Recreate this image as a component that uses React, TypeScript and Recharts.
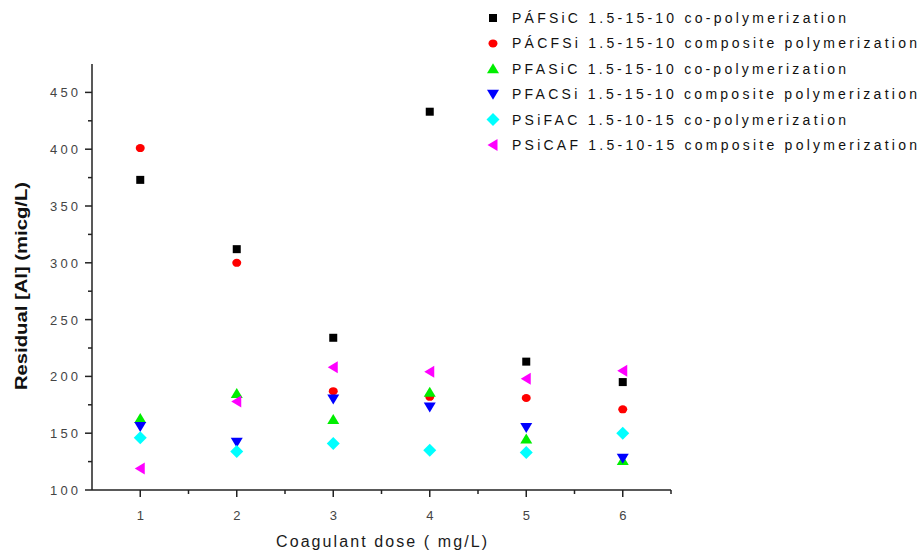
import { ScatterChart, Scatter, XAxis, YAxis, Legend, Label } from 'recharts';

document.body.style.margin = '0';

// coagulant dose (mg/L)
const doses = [1, 2, 3, 4, 5, 6];

// residual Al (micg/L) per coagulant
const pafsicCo = [373, 312, 234, 433, 213, 195];
const pacfsiComp = [401, 300, 187, 182, 181, 171];
const pfasicCo = [163, 185, 162, 186, 145, 126];
const pfacsiComp = [156, 142, 180, 173, 155, 128];
const psifacCo = [146, 134, 141, 135, 133, 150];
const psicafComp = [119, 178, 208, 204, 198, 205];

const xTicks = [1, 1.5, 2, 2.5, 3, 3.5, 4, 4.5, 5, 5.5, 6, 6.5];
const yTicks = [100, 125, 150, 175, 200, 225, 250, 275, 300, 325, 350, 375, 400, 425, 450];
const yLabels = [100, 150, 200, 250, 300, 350, 400, 450];

type MarkerKind = 'square' | 'circle' | 'up' | 'down' | 'diamond' | 'left';

const seriesList: { name: string; values: number[]; color: string; kind: MarkerKind; textW: number }[] = [
  { name: 'PÁFSiC 1.5-15-10 co-polymerization', values: pafsicCo, color: '#000000', kind: 'square', textW: 334 },
  { name: 'PÁCFSi 1.5-15-10 composite polymerization', values: pacfsiComp, color: '#ff0000', kind: 'circle', textW: 405 },
  { name: 'PFASiC 1.5-15-10 co-polymerization', values: pfasicCo, color: '#00ee00', kind: 'up', textW: 334 },
  { name: 'PFACSi 1.5-15-10 composite polymerization', values: pfacsiComp, color: '#0000ff', kind: 'down', textW: 405 },
  { name: 'PSiFAC 1.5-10-15 co-polymerization', values: psifacCo, color: '#00ffff', kind: 'diamond', textW: 334 },
  { name: 'PSiCAF 1.5-10-15 composite polymerization', values: psicafComp, color: '#ff00ff', kind: 'left', textW: 405 },
];

const AXIS = '#222';
const FONT = '"Liberation Sans", Arial, sans-serif';

function marker(kind: MarkerKind, cx: number, cy: number, color: string) {
  switch (kind) {
    case 'square':
      return <rect x={cx - 4} y={cy - 4} width={8} height={8} fill={color} />;
    case 'circle':
      return <ellipse cx={cx} cy={cy} rx={4.5} ry={4} fill={color} />;
    case 'up':
      return <polygon points={`${cx},${cy - 5.5} ${cx + 6},${cy + 4.5} ${cx - 6},${cy + 4.5}`} fill={color} />;
    case 'down':
      return <polygon points={`${cx},${cy + 5.5} ${cx + 6},${cy - 4.5} ${cx - 6},${cy - 4.5}`} fill={color} />;
    case 'diamond':
      return <polygon points={`${cx},${cy - 6.5} ${cx + 6.5},${cy} ${cx},${cy + 6.5} ${cx - 6.5},${cy}`} fill={color} />;
    case 'left':
      return <polygon points={`${cx - 5.5},${cy} ${cx + 4.5},${cy - 6} ${cx + 4.5},${cy + 6}`} fill={color} />;
  }
}

const XTick = (props: any) => {
  const { x, y, payload } = props;
  const major = Number.isInteger(payload.value);
  return (
    <g>
      <line x1={x} x2={x} y1={y} y2={y + (major ? 7 : 4)} stroke={AXIS} strokeWidth={1.5} />
      {major && (
        <text x={x} y={y + 30} textAnchor="middle" fontSize={13} fill="#444" fontFamily={FONT}>
          {payload.value}
        </text>
      )}
    </g>
  );
};

const YTick = (props: any) => {
  const { x, y, payload } = props;
  const major = yLabels.includes(payload.value);
  return (
    <g>
      <line x1={x} x2={x - (major ? 7 : 4)} y1={y} y2={y} stroke={AXIS} strokeWidth={1.5} />
      {major && (
        <text x={x - 14} y={y + 5} textAnchor="end" fontSize={13} fill="#444" fontFamily={FONT} textLength={28} lengthAdjust="spacing">
          {payload.value}
        </text>
      )}
    </g>
  );
};

const LegendBox = () => (
  <svg width={442} height={160}>
    {seriesList.map((s, i) => {
      const cy = 18 + i * 25.4;
      return (
        <g key={s.name}>
          {marker(s.kind, 13, cy, s.color)}
          <text x={32} y={cy + 5} fontSize={14} fill="#111" fontFamily={FONT} textLength={s.textW} lengthAdjust="spacing">
            {s.name}
          </text>
        </g>
      );
    })}
  </svg>
);

export default function App() {
  return (
    <div style={{ width: 922, height: 555, background: '#fff', position: 'relative' }}>
      <ScatterChart width={922} height={555} margin={{ top: 64, right: 251, bottom: 0, left: 0 }}>
        <XAxis
          type="number"
          dataKey="x"
          domain={[0.5, 6.5]}
          ticks={xTicks}
          interval={0}
          tickSize={0}
          tickMargin={0}
          tickLine={false}
          tick={<XTick />}
          height={65}
          axisLine={{ stroke: AXIS, strokeWidth: 1.5 }}
        >
          <Label
            content={(p: any) => {
              const vb = p.viewBox;
              return (
                <text x={vb.x + vb.width / 2} y={vb.y + 57} textAnchor="middle" fontSize={16} fill="#1a1a1a" fontFamily={FONT} textLength={211} lengthAdjust="spacing">
                  Coagulant dose ( mg/L)
                </text>
              );
            }}
          />
        </XAxis>
        <YAxis
          type="number"
          dataKey="y"
          domain={[100, 475]}
          ticks={yTicks}
          interval={0}
          tickSize={0}
          tickMargin={0}
          tickLine={false}
          tick={<YTick />}
          width={92}
          axisLine={{ stroke: AXIS, strokeWidth: 1.5 }}
        >
          <Label
            content={(p: any) => {
              const vb = p.viewBox;
              const cx = vb.x + 23;
              const cy = vb.y + vb.height / 2 + 9;
              return (
                <text x={cx} y={cy} transform={`rotate(-90 ${cx} ${cy})`} textAnchor="middle" dominantBaseline="middle" fontSize={17} fontWeight="bold" fill="#111" fontFamily={FONT} textLength={208} lengthAdjust="spacingAndGlyphs">
                  Residual [Al] (micg/L)
                </text>
              );
            }}
          />
        </YAxis>
        <Legend
          layout="vertical"
          align="center"
          verticalAlign="middle"
          wrapperStyle={{ left: 480, top: 0, width: 442, height: 160 }}
          content={() => <LegendBox />}
        />
        {seriesList.map((s) => (
          <Scatter
            key={s.name}
            name={s.name}
            data={doses.map((d, i) => ({ x: d, y: s.values[i] }))}
            isAnimationActive={false}
            shape={(p: any) => marker(s.kind, p.cx, p.cy, s.color)}
          />
        ))}
      </ScatterChart>
    </div>
  );
}
